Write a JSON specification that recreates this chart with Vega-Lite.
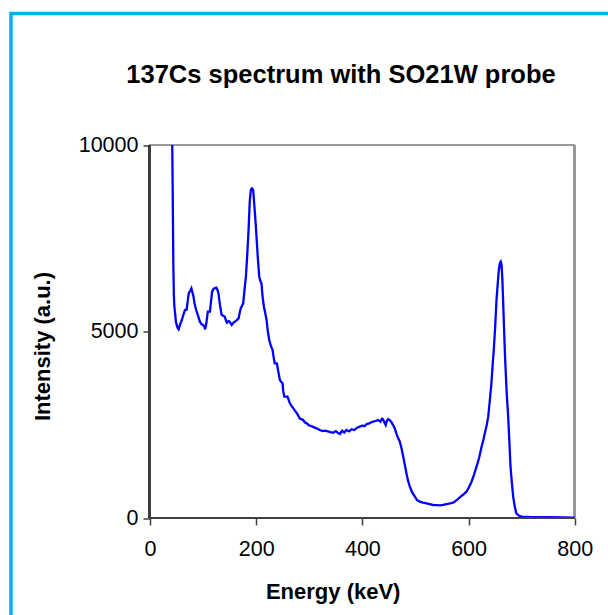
{
  "$schema": "https://vega.github.io/schema/vega-lite/v6.json",
  "width": 620,
  "height": 627,
  "autosize": {"type": "none"},
  "padding": {"left": 11, "top": 13.5, "right": 0, "bottom": 0},
  "background": "white",
  "config": {
    "view": {"stroke": "#00B0F0", "strokeWidth": 3.5},
    "font": "Liberation Sans",
    "axis": {"domain": false, "grid": false}
  },
  "title": {
    "text": "137Cs spectrum with SO21W probe",
    "font": "Liberation Sans",
    "fontSize": 25.5,
    "fontWeight": "bold",
    "color": "black",
    "anchor": "middle",
    "frame": "group",
    "orient": "top",
    "offset": 0,
    "baseline": "alphabetic",
    "dx": 20,
    "dy": 95
  },
  "data": {
    "values": [
      {"energy": 42, "intensity": 10000},
      {"energy": 43, "intensity": 8500},
      {"energy": 44, "intensity": 6836},
      {"energy": 45, "intensity": 6000},
      {"energy": 46, "intensity": 5665},
      {"energy": 49, "intensity": 5250},
      {"energy": 52, "intensity": 5100},
      {"energy": 54, "intensity": 5058},
      {"energy": 57, "intensity": 5200},
      {"energy": 60, "intensity": 5308},
      {"energy": 63, "intensity": 5450},
      {"energy": 66, "intensity": 5576},
      {"energy": 69, "intensity": 5585},
      {"energy": 71, "intensity": 5800},
      {"energy": 73, "intensity": 6024},
      {"energy": 76, "intensity": 6100},
      {"energy": 78, "intensity": 6158},
      {"energy": 80, "intensity": 6050},
      {"energy": 82, "intensity": 5933},
      {"energy": 84, "intensity": 5750},
      {"energy": 87, "intensity": 5576},
      {"energy": 90, "intensity": 5450},
      {"energy": 94, "intensity": 5264},
      {"energy": 97, "intensity": 5200},
      {"energy": 100, "intensity": 5174},
      {"energy": 102, "intensity": 5150},
      {"energy": 104, "intensity": 5058},
      {"energy": 106, "intensity": 5200},
      {"energy": 109, "intensity": 5532},
      {"energy": 113, "intensity": 5532},
      {"energy": 115, "intensity": 5800},
      {"energy": 117, "intensity": 6068},
      {"energy": 120, "intensity": 6150},
      {"energy": 125, "intensity": 6175},
      {"energy": 127, "intensity": 6120},
      {"energy": 129, "intensity": 6024},
      {"energy": 132, "intensity": 5700},
      {"energy": 135, "intensity": 5442},
      {"energy": 138, "intensity": 5420},
      {"energy": 141, "intensity": 5397},
      {"energy": 143, "intensity": 5300},
      {"energy": 145, "intensity": 5237},
      {"energy": 148, "intensity": 5280},
      {"energy": 150, "intensity": 5264},
      {"energy": 152, "intensity": 5220},
      {"energy": 154, "intensity": 5174},
      {"energy": 157, "intensity": 5230},
      {"energy": 160, "intensity": 5264},
      {"energy": 163, "intensity": 5300},
      {"energy": 167, "intensity": 5353},
      {"energy": 169, "intensity": 5500},
      {"energy": 171, "intensity": 5621},
      {"energy": 173, "intensity": 5680},
      {"energy": 175.6, "intensity": 5755},
      {"energy": 178, "intensity": 6100},
      {"energy": 180.7, "intensity": 6470},
      {"energy": 183, "intensity": 7000},
      {"energy": 185.7, "intensity": 7721},
      {"energy": 188, "intensity": 8500},
      {"energy": 190, "intensity": 8793},
      {"energy": 191.5, "intensity": 8838},
      {"energy": 193, "intensity": 8830},
      {"energy": 194.5, "intensity": 8775},
      {"energy": 197, "intensity": 8300},
      {"energy": 199.5, "intensity": 7810},
      {"energy": 203, "intensity": 7000},
      {"energy": 205.8, "intensity": 6470},
      {"energy": 208, "intensity": 6350},
      {"energy": 210, "intensity": 6290},
      {"energy": 212, "intensity": 5950},
      {"energy": 214.6, "intensity": 5665},
      {"energy": 217, "intensity": 5500},
      {"energy": 219.6, "intensity": 5308},
      {"energy": 222, "intensity": 5000},
      {"energy": 224.6, "intensity": 4772},
      {"energy": 228, "intensity": 4600},
      {"energy": 231, "intensity": 4504},
      {"energy": 233, "intensity": 4300},
      {"energy": 235, "intensity": 4147},
      {"energy": 239, "intensity": 4147},
      {"energy": 242, "intensity": 3900},
      {"energy": 244.7, "intensity": 3700},
      {"energy": 247, "intensity": 3650},
      {"energy": 249.7, "intensity": 3611},
      {"energy": 251, "intensity": 3400},
      {"energy": 253, "intensity": 3252},
      {"energy": 257, "intensity": 3252},
      {"energy": 259, "intensity": 3252},
      {"energy": 263.5, "intensity": 3074},
      {"energy": 267, "intensity": 3000},
      {"energy": 270, "intensity": 2940},
      {"energy": 273, "intensity": 2880},
      {"energy": 276, "intensity": 2823},
      {"energy": 279, "intensity": 2750},
      {"energy": 282, "intensity": 2672},
      {"energy": 285, "intensity": 2650},
      {"energy": 288.6, "intensity": 2627},
      {"energy": 292, "intensity": 2560},
      {"energy": 295, "intensity": 2539},
      {"energy": 300, "intensity": 2480},
      {"energy": 304, "intensity": 2466},
      {"energy": 309, "intensity": 2430},
      {"energy": 313.7, "intensity": 2404},
      {"energy": 317, "intensity": 2380},
      {"energy": 320, "intensity": 2359},
      {"energy": 325, "intensity": 2330},
      {"energy": 330, "intensity": 2341},
      {"energy": 335, "intensity": 2320},
      {"energy": 340, "intensity": 2300},
      {"energy": 345, "intensity": 2287},
      {"energy": 350, "intensity": 2330},
      {"energy": 355, "intensity": 2270},
      {"energy": 357.6, "intensity": 2252},
      {"energy": 362, "intensity": 2340},
      {"energy": 366, "intensity": 2290},
      {"energy": 370, "intensity": 2359},
      {"energy": 375, "intensity": 2320},
      {"energy": 380, "intensity": 2380},
      {"energy": 385, "intensity": 2359},
      {"energy": 390, "intensity": 2420},
      {"energy": 395, "intensity": 2448},
      {"energy": 400, "intensity": 2480},
      {"energy": 404, "intensity": 2460},
      {"energy": 408, "intensity": 2520},
      {"energy": 412, "intensity": 2530},
      {"energy": 416, "intensity": 2560},
      {"energy": 420, "intensity": 2582},
      {"energy": 425, "intensity": 2600},
      {"energy": 430, "intensity": 2627},
      {"energy": 434, "intensity": 2580},
      {"energy": 437, "intensity": 2660},
      {"energy": 439, "intensity": 2645},
      {"energy": 442, "intensity": 2550},
      {"energy": 444, "intensity": 2493},
      {"energy": 446, "intensity": 2600},
      {"energy": 448.6, "intensity": 2654},
      {"energy": 452, "intensity": 2620},
      {"energy": 455, "intensity": 2560},
      {"energy": 458, "intensity": 2493},
      {"energy": 461, "intensity": 2400},
      {"energy": 464, "intensity": 2270},
      {"energy": 467, "intensity": 2150},
      {"energy": 470.6, "intensity": 2046},
      {"energy": 474, "intensity": 1850},
      {"energy": 477, "intensity": 1644},
      {"energy": 480, "intensity": 1420},
      {"energy": 483, "intensity": 1198},
      {"energy": 486, "intensity": 1000},
      {"energy": 489.4, "intensity": 839},
      {"energy": 494, "intensity": 680},
      {"energy": 499, "intensity": 571},
      {"energy": 503, "intensity": 480},
      {"energy": 508, "intensity": 437},
      {"energy": 514, "intensity": 410},
      {"energy": 521, "intensity": 394},
      {"energy": 527, "intensity": 370},
      {"energy": 533, "intensity": 349},
      {"energy": 540, "intensity": 345},
      {"energy": 546, "intensity": 340},
      {"energy": 552, "intensity": 350},
      {"energy": 558.6, "intensity": 375},
      {"energy": 565, "intensity": 390},
      {"energy": 571, "intensity": 410},
      {"energy": 577, "intensity": 470},
      {"energy": 583.5, "intensity": 555},
      {"energy": 590, "intensity": 630},
      {"energy": 596, "intensity": 705},
      {"energy": 601, "intensity": 830},
      {"energy": 605.6, "intensity": 973},
      {"energy": 610, "intensity": 1150},
      {"energy": 615, "intensity": 1375},
      {"energy": 620, "intensity": 1620},
      {"energy": 624.5, "intensity": 1912},
      {"energy": 628, "intensity": 2100},
      {"energy": 630.6, "intensity": 2270},
      {"energy": 634, "intensity": 2480},
      {"energy": 637, "intensity": 2716},
      {"energy": 640, "intensity": 3150},
      {"energy": 643, "intensity": 3611},
      {"energy": 646, "intensity": 4236},
      {"energy": 647.5, "intensity": 4504},
      {"energy": 650, "intensity": 5100},
      {"energy": 652.6, "intensity": 5844},
      {"energy": 655, "intensity": 6300},
      {"energy": 657, "intensity": 6650},
      {"energy": 659, "intensity": 6830},
      {"energy": 660.7, "intensity": 6871},
      {"energy": 662, "intensity": 6800},
      {"energy": 663.5, "intensity": 6450},
      {"energy": 665, "intensity": 5844},
      {"energy": 667, "intensity": 5000},
      {"energy": 668.5, "intensity": 4400},
      {"energy": 670, "intensity": 3900},
      {"energy": 672, "intensity": 3300},
      {"energy": 674.6, "intensity": 2716},
      {"energy": 677, "intensity": 2000},
      {"energy": 679, "intensity": 1375},
      {"energy": 681.5, "intensity": 950},
      {"energy": 684, "intensity": 571},
      {"energy": 687, "intensity": 300},
      {"energy": 690, "intensity": 126},
      {"energy": 695, "intensity": 60},
      {"energy": 700, "intensity": 35},
      {"energy": 720, "intensity": 25},
      {"energy": 750, "intensity": 20},
      {"energy": 780, "intensity": 15},
      {"energy": 800, "intensity": 10}
    ]
  },
  "encoding": {
    "x": {
      "field": "energy",
      "type": "quantitative",
      "scale": {"domain": [-261.65, 905.88], "nice": false, "zero": false},
      "axis": {
        "orient": "bottom",
        "offset": -122.5,
        "values": [0, 200, 400, 600, 800],
        "format": "d",
        "tickSize": 7,
        "tickWidth": 1.5,
        "tickColor": "#404040",
        "labelFont": "Liberation Sans",
        "labelFontSize": 21.5,
        "labelColor": "black",
        "labelBaseline": "alphabetic",
        "labelPadding": 30,
        "labelFlush": false,
        "labelOverlap": false,
        "title": "Energy (keV)",
        "titleFont": "Liberation Sans",
        "titleFontSize": 22,
        "titleFontWeight": "bold",
        "titleColor": "black",
        "titleAlign": "center",
        "titleBaseline": "alphabetic",
        "titleX": 321.7,
        "titleY": 80
      }
    },
    "y": {
      "field": "intensity",
      "type": "quantitative",
      "scale": {"domain": [-3284, 13525.5], "nice": false, "zero": false},
      "axis": {
        "orient": "left",
        "offset": -139,
        "values": [0, 5000, 10000],
        "format": "d",
        "tickSize": 7,
        "tickWidth": 1.5,
        "tickColor": "#404040",
        "labelFont": "Liberation Sans",
        "labelFontSize": 21.5,
        "labelColor": "black",
        "labelBaseline": "middle",
        "labelPadding": 5,
        "labelFlush": false,
        "labelOverlap": false,
        "title": "Intensity (a.u.)",
        "titleFont": "Liberation Sans",
        "titleFontSize": 22,
        "titleFontWeight": "bold",
        "titleColor": "black",
        "titleAngle": 270,
        "titleAlign": "center",
        "titleBaseline": "alphabetic",
        "titleX": -101,
        "titleY": 332.5
      }
    }
  },
  "layer": [
    {
      "mark": {"type": "rule", "color": "#999999", "strokeWidth": 2},
      "encoding": {"x": {"datum": 0}, "x2": {"datum": 800}, "y": {"datum": 10000}}
    },
    {
      "mark": {"type": "rule", "color": "#999999", "strokeWidth": 2},
      "encoding": {"x": {"datum": 800}, "y": {"datum": 0}, "y2": {"datum": 10000}}
    },
    {
      "mark": {"type": "line", "color": "#0000FF", "strokeWidth": 2.3}
    },
    {
      "mark": {"type": "rule", "color": "#404040", "strokeWidth": 2},
      "encoding": {"x": {"datum": 0}, "y": {"datum": 0}, "y2": {"datum": 10000}}
    },
    {
      "mark": {"type": "rule", "color": "#404040", "strokeWidth": 2},
      "encoding": {"x": {"datum": 0}, "x2": {"datum": 800}, "y": {"datum": 0}}
    }
  ]
}
